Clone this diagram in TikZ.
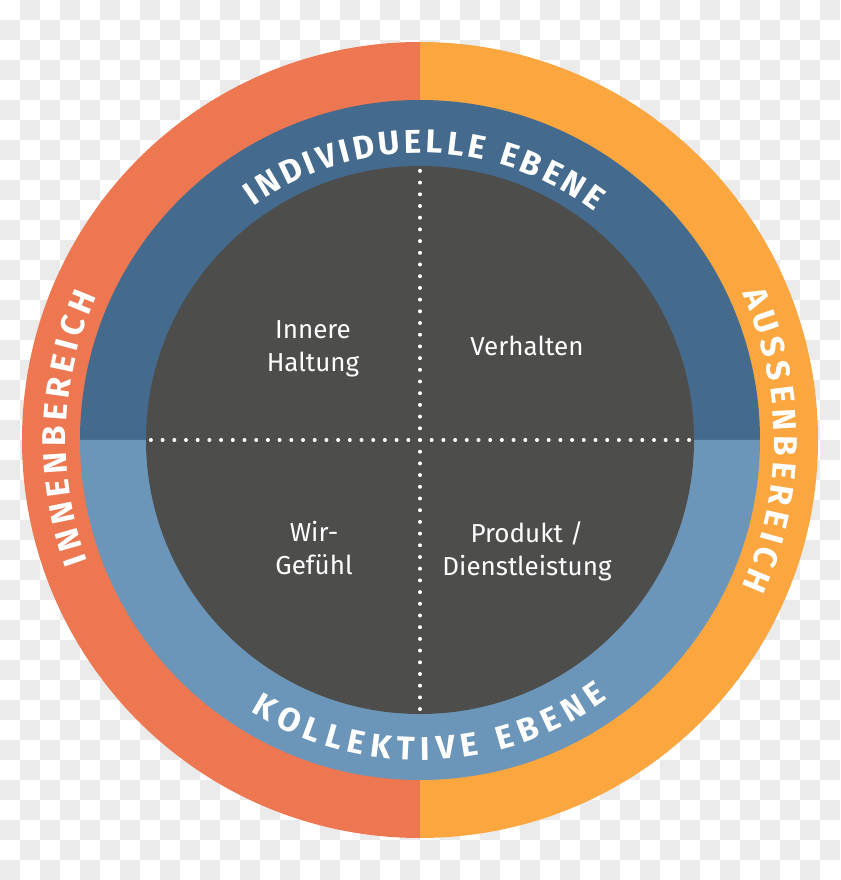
\documentclass[tikz,border=0pt]{standalone}
\usepackage{fontspec}
\setmainfont{Fira Sans}
\usepackage{tikz}
\usetikzlibrary{decorations.text}
\definecolor{innen}{RGB}{237,119,81}
\definecolor{aussen}{RGB}{251,166,63}
\definecolor{indiv}{RGB}{68,106,141}
\definecolor{kollektiv}{RGB}{107,149,185}
\definecolor{kern}{RGB}{77,77,76}
\definecolor{kachel}{RGB}{235,235,235}
\newcommand{\ebenenfont}{\bfseries\fontsize{33}{33}\selectfont}

\begin{document}
\begin{tikzpicture}[x=1pt, y=1pt,
  feld/.style={text=white, align=center, font=\fontsize{26}{33}\selectfont},
  ringtext/.style={decorate, decoration={text along path, text color=white,
    text align={fit to path}, text={|\ebenenfont|#1}}}]

%---------------------------------------
% Background tiles
%---------------------------------------
\useasboundingbox (-420,-440) rectangle (420,440);
\foreach \i in {0,...,41}
  \foreach \j in {0,...,43} {
    \pgfmathtruncatemacro\odd{mod(\i+\j,2)}
    \ifnum\odd=1 \fill[kachel] (-420+20*\i,440-20*\j) rectangle ++(20,-20); \fi
  }

%---------------------------------------
% Rings
%---------------------------------------
\fill[innen] (90:398) arc[start angle=90, end angle=270, radius=398] -- cycle;
\fill[aussen] (-90:398) arc[start angle=-90, end angle=90, radius=398] -- cycle;
\fill[indiv] (0:340) arc[start angle=0, end angle=180, radius=340] -- cycle;
\fill[kollektiv] (180:340) arc[start angle=180, end angle=360, radius=340] -- cycle;
\fill[kern] (0,0) circle[radius=274];

%---------------------------------------
% Dotted cross
%---------------------------------------
\foreach \k in {-23,...,23} {
  \fill[white] (\k*11.7,0) circle[radius=2];
  \fill[white] (0,\k*11.7) circle[radius=2];
}

%---------------------------------------
% Ring labels
%---------------------------------------
\path[ringtext=INDIVIDUELLE EBENE] (125.5:287) arc[start angle=125.5, end angle=52.6, radius=287];
\path[ringtext=KOLLEKTIVE EBENE] (-122:320) arc[start angle=-122, end angle=-54, radius=320];
\path[ringtext=INNENBEREICH] (200:354) arc[start angle=200, end angle=156, radius=354];
\path[ringtext=AUSSENBEREICH] (24.5:354) arc[start angle=24.5, end angle=-24.5, radius=354];

%---------------------------------------
% Quadrants
%---------------------------------------
\node[feld] (haltung) at (-107,91) {Innere\\Haltung};
\node[feld] (verhalten) at (107,94) {Verhalten};
\node[feld] (wirgefuehl) at (-106,-108) {Wir-\\Gefühl};
\node[feld] (produkt) at (107,-111) {Produkt /\\Dienstleistung};

\end{tikzpicture}
\end{document}
